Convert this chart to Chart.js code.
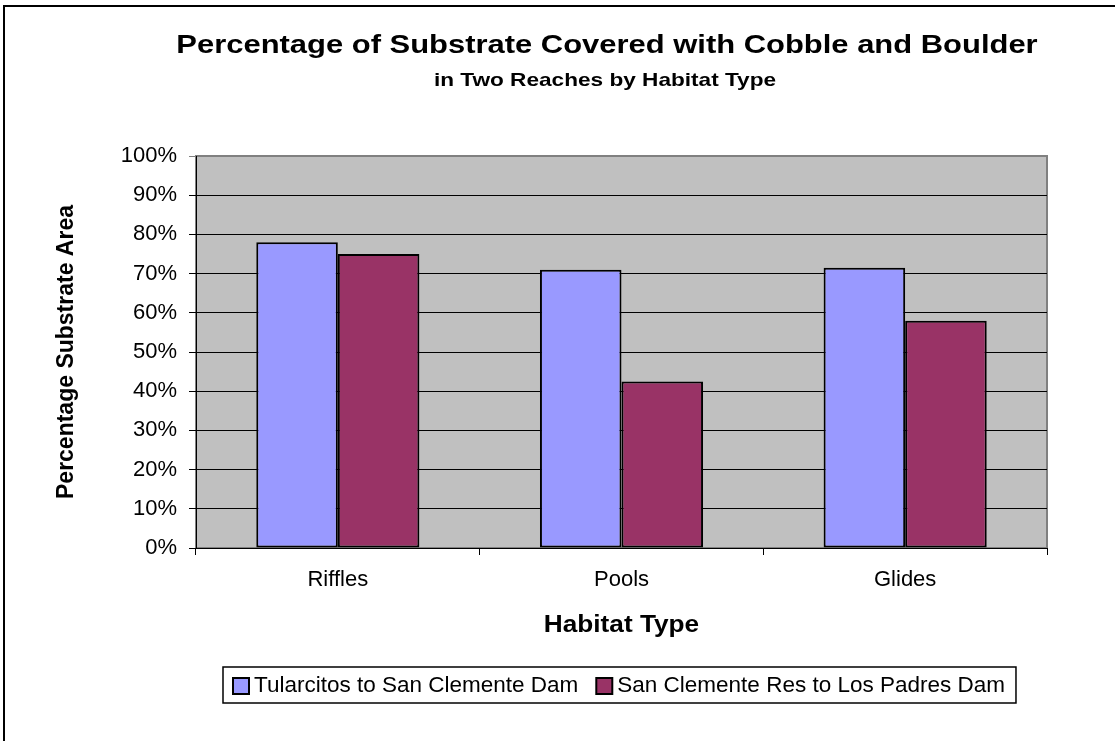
<!DOCTYPE html>
<html>
<head>
<meta charset="utf-8">
<script src="https://cdn.jsdelivr.net/npm/chart.js@4/dist/chart.umd.min.js"></script>
<style>
  html, body { margin: 0; padding: 0; background: #fff; }
  #wrap { width: 1115px; height: 741px; }
</style>
</head>
<body>
<div id="wrap"><canvas id="c" width="1115" height="741"></canvas></div>
<script>
// Habitat categories and the two reaches compared
const categories = ['Riffles', 'Pools', 'Glides'];
const seriesNames = ['Tularcitos to San Clemente Dam', 'San Clemente Res to Los Padres Dam'];
const tularcitos = [78, 71, 71.5];      // % cobble + boulder
const sanClemente = [75, 42.5, 58];     // % cobble + boulder
const yTickValues = [0, 10, 20, 30, 40, 50, 60, 70, 80, 90, 100];

const chartTitle = 'Percentage of Substrate Covered with Cobble and Boulder';
const chartSubtitle = 'in Two Reaches by Habitat Type';
const xTitle = 'Habitat Type';
const yTitle = 'Percentage Substrate Area';

const SANS = '"Liberation Sans", Arial, sans-serif';
Chart.defaults.font.family = SANS;
Chart.defaults.color = '#000';

// centred text, widened horizontally by the given factor
function wideText(ctx, text, x, y, font, stretch) {
  ctx.save();
  ctx.font = font;
  ctx.textAlign = 'center';
  ctx.textBaseline = 'middle';
  ctx.translate(x, y);
  ctx.scale(stretch, 1);
  ctx.fillText(text, 0, 0);
  ctx.restore();
}

// Page frame, grey plot background, titles and boxed legend
const framePlugin = {
  id: 'frame',
  beforeDraw(chart) {
    const { ctx, chartArea: a } = chart;
    ctx.save();
    ctx.fillStyle = '#fff';
    ctx.fillRect(0, 0, chart.width, chart.height);
    ctx.strokeStyle = '#000';
    ctx.lineWidth = 2;
    ctx.strokeRect(4, 6, 1400, 1000);
    ctx.fillStyle = '#C0C0C0';
    ctx.fillRect(a.left, a.top, a.right - a.left, a.bottom - a.top);
    ctx.strokeStyle = '#808080';
    ctx.lineWidth = 2;
    ctx.strokeRect(a.left, a.top, a.right - a.left, a.bottom - a.top);
    ctx.restore();
  },
  afterDraw(chart) {
    const { ctx, chartArea: a } = chart;
    ctx.save();
    ctx.fillStyle = '#000';
    wideText(ctx, chartTitle, 607, 46, 'bold 26px ' + SANS, 1.19);
    wideText(ctx, chartSubtitle, 605, 81, 'bold 19px ' + SANS, 1.19);
    wideText(ctx, xTitle, (a.left + a.right) / 2, 626, 'bold 23px ' + SANS, 1.14);

    // legend
    ctx.font = '22.5px ' + SANS;
    ctx.textAlign = 'left';
    ctx.textBaseline = 'middle';
    const cy = 686;
    let x = 233;
    let end = x;
    chart.data.datasets.forEach((ds) => {
      ctx.fillStyle = ds.backgroundColor;
      ctx.fillRect(x, cy - 8, 16, 16);
      ctx.strokeStyle = '#000';
      ctx.lineWidth = 2;
      ctx.strokeRect(x, cy - 8, 16, 16);
      ctx.fillStyle = '#000';
      ctx.fillText(ds.label, x + 21, cy);
      end = x + 21 + ctx.measureText(ds.label).width;
      x = end + 18;
    });
    ctx.strokeStyle = '#000';
    ctx.lineWidth = 1.5;
    ctx.strokeRect(223, 667, end + 11 - 223, 36);
    ctx.restore();
  }
};

new Chart(document.getElementById('c'), {
  type: 'bar',
  data: {
    labels: categories,
    datasets: [
      { label: seriesNames[0], data: tularcitos, backgroundColor: '#9999FF',
        borderColor: '#000', borderWidth: 2, borderSkipped: false },
      { label: seriesNames[1], data: sanClemente, backgroundColor: '#993366',
        borderColor: '#000', borderWidth: 2, borderSkipped: false }
    ]
  },
  options: {
    responsive: false,
    animation: false,
    events: [],
    layout: { padding: { left: 0, right: 68, top: 156, bottom: 93 } },
    categoryPercentage: 0.575,
    barPercentage: 1,
    plugins: {
      legend: { display: false },
      title: { display: false },
      tooltip: { enabled: false }
    },
    scales: {
      x: {
        grid: { display: true, drawOnChartArea: false, drawTicks: true, tickLength: 7,
                color: '#000', offset: true },
        border: { display: true, color: '#000', width: 1 },
        ticks: { color: '#000', font: { size: 22 }, padding: 12 },
        title: { display: false },
        afterFit(s) { s.height = 100; }
      },
      y: {
        min: 0,
        max: 100,
        afterBuildTicks(s) { s.ticks = yTickValues.map(v => ({ value: v })); },
        ticks: { color: '#000', font: { size: 22 }, padding: 12, callback: v => v + '%' },
        grid: { color: ctx => (ctx.tick && ctx.tick.value === 100 ? '#808080' : '#000'),
                tickLength: 7, drawTicks: true },
        border: { color: '#000', width: 1 },
        title: { display: true, text: yTitle, color: '#000',
                 font: { family: SANS, size: 23, weight: 'bold' },
                 padding: { top: 53, bottom: 0 } },
        afterFit(s) { s.width = 196; }
      }
    }
  },
  plugins: [framePlugin]
});
</script>
</body>
</html>
